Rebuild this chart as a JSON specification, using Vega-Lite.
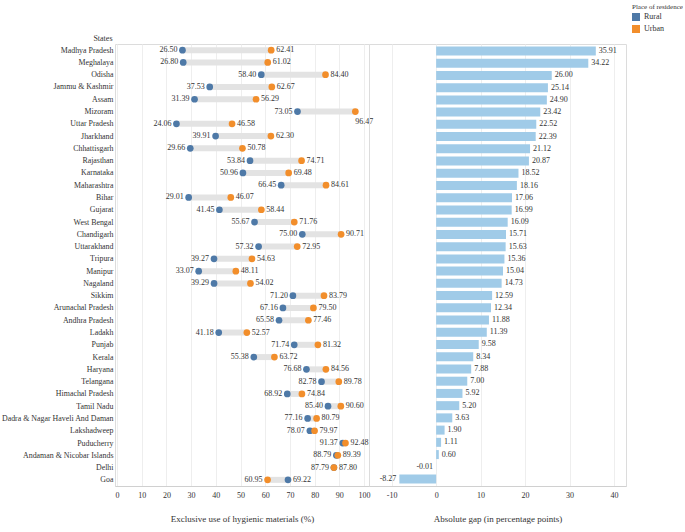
{
  "$schema": "https://vega.github.io/schema/vega-lite/v6.json",
  "padding": {"top": 3, "left": 0, "right": 0, "bottom": 0},
  "spacing": 0,
  "bounds": "flush",
  "config": {
    "font": "Times New Roman",
    "locale": {"number": {"decimal": ".", "thousands": ",", "grouping": [3], "currency": ["$", ""], "minus": "-"}},
    "view": {"stroke": "#dcdcdc"},
    "axis": {"labelFont": "Times New Roman", "titleFont": "Times New Roman", "labelColor": "#333", "titleColor": "#333", "titleFontWeight": "normal", "gridColor": "#eeeeee", "domainColor": "#d0d0d0", "tickSize": 0, "labelOverlap": false, "labelFlush": false},
    "legend": {"titleFont": "Times New Roman", "labelFont": "Times New Roman", "titleFontWeight": "normal", "titleFontSize": 7, "labelFontSize": 8, "titleColor": "#333", "labelColor": "#333", "symbolType": "square", "symbolSize": 64, "rowPadding": 4, "titlePadding": 3, "symbolStrokeWidth": 0, "labelOffset": 4}
  },
  "datasets": {
    "d": [
      {"State": "Madhya Pradesh", "Rural": 26.50, "Urban": 62.41, "Gap": 35.91},
      {"State": "Meghalaya", "Rural": 26.80, "Urban": 61.02, "Gap": 34.22},
      {"State": "Odisha", "Rural": 58.40, "Urban": 84.40, "Gap": 26.00},
      {"State": "Jammu & Kashmir", "Rural": 37.53, "Urban": 62.67, "Gap": 25.14},
      {"State": "Assam", "Rural": 31.39, "Urban": 56.29, "Gap": 24.90},
      {"State": "Mizoram", "Rural": 73.05, "Urban": 96.47, "Gap": 23.42},
      {"State": "Uttar Pradesh", "Rural": 24.06, "Urban": 46.58, "Gap": 22.52},
      {"State": "Jharkhand", "Rural": 39.91, "Urban": 62.30, "Gap": 22.39},
      {"State": "Chhattisgarh", "Rural": 29.66, "Urban": 50.78, "Gap": 21.12},
      {"State": "Rajasthan", "Rural": 53.84, "Urban": 74.71, "Gap": 20.87},
      {"State": "Karnataka", "Rural": 50.96, "Urban": 69.48, "Gap": 18.52},
      {"State": "Maharashtra", "Rural": 66.45, "Urban": 84.61, "Gap": 18.16},
      {"State": "Bihar", "Rural": 29.01, "Urban": 46.07, "Gap": 17.06},
      {"State": "Gujarat", "Rural": 41.45, "Urban": 58.44, "Gap": 16.99},
      {"State": "West Bengal", "Rural": 55.67, "Urban": 71.76, "Gap": 16.09},
      {"State": "Chandigarh", "Rural": 75.00, "Urban": 90.71, "Gap": 15.71},
      {"State": "Uttarakhand", "Rural": 57.32, "Urban": 72.95, "Gap": 15.63},
      {"State": "Tripura", "Rural": 39.27, "Urban": 54.63, "Gap": 15.36},
      {"State": "Manipur", "Rural": 33.07, "Urban": 48.11, "Gap": 15.04},
      {"State": "Nagaland", "Rural": 39.29, "Urban": 54.02, "Gap": 14.73},
      {"State": "Sikkim", "Rural": 71.20, "Urban": 83.79, "Gap": 12.59},
      {"State": "Arunachal Pradesh", "Rural": 67.16, "Urban": 79.50, "Gap": 12.34},
      {"State": "Andhra Pradesh", "Rural": 65.58, "Urban": 77.46, "Gap": 11.88},
      {"State": "Ladakh", "Rural": 41.18, "Urban": 52.57, "Gap": 11.39},
      {"State": "Punjab", "Rural": 71.74, "Urban": 81.32, "Gap": 9.58},
      {"State": "Kerala", "Rural": 55.38, "Urban": 63.72, "Gap": 8.34},
      {"State": "Haryana", "Rural": 76.68, "Urban": 84.56, "Gap": 7.88},
      {"State": "Telangana", "Rural": 82.78, "Urban": 89.78, "Gap": 7.00},
      {"State": "Himachal Pradesh", "Rural": 68.92, "Urban": 74.84, "Gap": 5.92},
      {"State": "Tamil Nadu", "Rural": 85.40, "Urban": 90.60, "Gap": 5.20},
      {"State": "Dadra & Nagar Haveli And Daman", "Rural": 77.16, "Urban": 80.79, "Gap": 3.63},
      {"State": "Lakshadweep", "Rural": 78.07, "Urban": 79.97, "Gap": 1.90},
      {"State": "Puducherry", "Rural": 91.37, "Urban": 92.48, "Gap": 1.11},
      {"State": "Andaman & Nicobar Islands", "Rural": 88.79, "Urban": 89.39, "Gap": 0.60},
      {"State": "Delhi", "Rural": 87.79, "Urban": 87.80, "Gap": -0.01},
      {"State": "Goa", "Rural": 69.22, "Urban": 60.95, "Gap": -8.27}
    ]
  },
  "hconcat": [
    {
      "width": 254,
      "height": 442,
      "data": {"name": "d"},
      "transform": [{"fold": ["Rural", "Urban"], "as": ["series", "value"]}],
      "encoding": {
        "y": {
          "field": "State", "type": "nominal",
          "sort": {"field": "Gap", "op": "max", "order": "descending"},
          "scale": {"paddingInner": 0, "paddingOuter": 0.07},
          "axis": {"title": "States", "titleAngle": 0, "titleAlign": "right", "titleBaseline": "bottom", "titleX": -3, "titleY": -2, "titleFontSize": 8, "domain": false, "labelPadding": 2, "labelFontSize": 7.9}
        },
        "x": {"field": "value", "type": "quantitative", "scale": {"domain": [-0.8, 102], "nice": false, "zero": false},
          "axis": {"values": [0, 10, 20, 30, 40, 50, 60, 70, 80, 90, 100], "title": "Exclusive use of hygienic materials (%)", "labelPadding": 5, "titlePadding": 15, "labelFontSize": 8, "titleFontSize": 9, "grid": true}}
      },
      "layer": [
        {
          "mark": {"type": "line", "strokeWidth": 6, "color": "#e3e3e3", "strokeCap": "butt"},
          "encoding": {"detail": {"field": "State"}}
        },
        {
          "mark": {"type": "circle", "size": 45, "opacity": 1},
          "encoding": {
            "color": {"field": "series", "type": "nominal", "scale": {"domain": ["Rural", "Urban"], "range": ["#4e79a7", "#f28e2b"]},
              "legend": {"title": "Place of residence", "orient": "none", "legendX": 517, "legendY": -41}}
          }
        },
        {
          "transform": [{"filter": "(datum.series === 'Rural') === (datum.Rural <= datum.Urban)"}],
          "mark": {"type": "text", "align": "right", "dx": -5, "font": "Times New Roman", "fontSize": 8, "color": "#333"},
          "encoding": {"text": {"field": "value", "type": "quantitative", "format": ".2f"}}
        },
        {
          "transform": [{"filter": "((datum.series === 'Rural') !== (datum.Rural <= datum.Urban)) && datum.value < 95"}],
          "mark": {"type": "text", "align": "left", "dx": 5, "font": "Times New Roman", "fontSize": 8, "color": "#333"},
          "encoding": {"text": {"field": "value", "type": "quantitative", "format": ".2f"}}
        },
        {
          "transform": [{"filter": "datum.value >= 95"}],
          "mark": {"type": "text", "align": "left", "dx": 0, "dy": 10, "font": "Times New Roman", "fontSize": 8, "color": "#333"},
          "encoding": {"text": {"field": "value", "type": "quantitative", "format": ".2f"}}
        }
      ]
    },
    {
      "width": 257,
      "height": 442,
      "data": {"name": "d"},
      "encoding": {
        "y": {
          "field": "State", "type": "nominal",
          "sort": {"field": "Gap", "op": "max", "order": "descending"},
          "scale": {"paddingInner": 0, "paddingOuter": 0.07},
          "axis": null
        },
        "x": {"field": "Gap", "type": "quantitative", "scale": {"domain": [-15.1, 42.7], "nice": false, "zero": false},
          "axis": {"values": [-10, 0, 10, 20, 30, 40], "title": "Absolute gap (in percentage points)", "labelPadding": 5, "titlePadding": 15, "labelFontSize": 8, "titleFontSize": 9, "grid": true}}
      },
      "layer": [
        {
          "mark": {"type": "bar", "size": 9, "color": "#a0cbe8"}
        },
        {
          "transform": [{"filter": "datum.Gap >= 0"}],
          "mark": {"type": "text", "align": "left", "dx": 3, "font": "Times New Roman", "fontSize": 8, "color": "#333"},
          "encoding": {"text": {"field": "Gap", "type": "quantitative", "format": ".2f"}}
        },
        {
          "transform": [{"filter": "datum.Gap < 0"}],
          "mark": {"type": "text", "align": "right", "dx": -3, "font": "Times New Roman", "fontSize": 8, "color": "#333"},
          "encoding": {"text": {"field": "Gap", "type": "quantitative", "format": ".2f"}}
        }
      ]
    }
  ]
}
